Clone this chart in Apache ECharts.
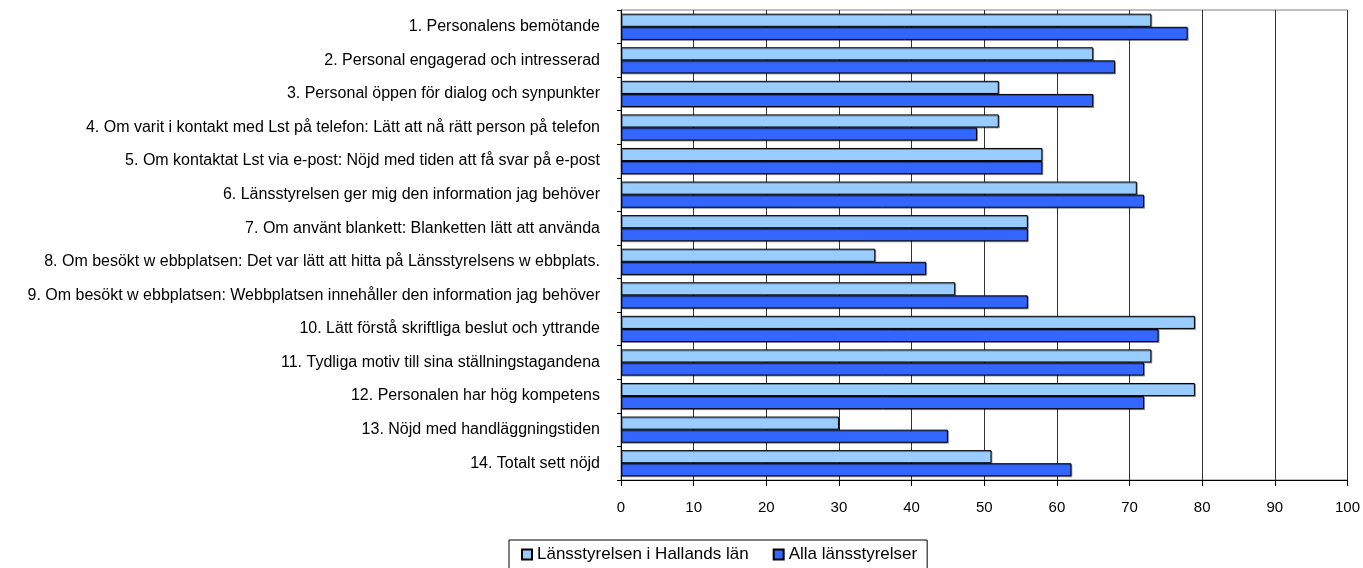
<!DOCTYPE html>
<html>
<head>
<meta charset="utf-8">
<script src="https://cdn.jsdelivr.net/npm/echarts@6/dist/echarts.min.js"></script>
<style>
  html, body { margin: 0; padding: 0; background: #fff; }
  #chart { width: 1363px; height: 568px; }
</style>
</head>
<body>
<div id="chart"></div>
<script>
// Survey questions (top to bottom)
const categories = [
  "1. Personalens bemötande",
  "2. Personal engagerad och intresserad",
  "3. Personal öppen för dialog och synpunkter",
  "4. Om varit i kontakt med Lst på telefon: Lätt att nå rätt person på telefon",
  "5. Om kontaktat Lst via e-post: Nöjd med tiden att få svar på e-post",
  "6. Länsstyrelsen ger mig den information jag behöver",
  "7. Om använt blankett: Blanketten lätt att använda",
  "8. Om besökt w ebbplatsen: Det var lätt att hitta på Länsstyrelsens w ebbplats.",
  "9. Om besökt w ebbplatsen: Webbplatsen innehåller den information jag behöver",
  "10. Lätt förstå skriftliga beslut och yttrande",
  "11. Tydliga motiv till sina ställningstagandena",
  "12. Personalen har hög kompetens",
  "13. Nöjd med handläggningstiden",
  "14. Totalt sett nöjd"
];

const seriesNames = ["Länsstyrelsen i Hallands län", "Alla länsstyrelser"];

const hallandValues = [73, 65, 52, 52, 58, 71, 56, 35, 46, 79, 73, 79, 30, 51];
const allaValues    = [78, 68, 65, 49, 58, 72, 56, 42, 56, 74, 72, 72, 45, 62];

const xMin = 0, xMax = 100, xStep = 10;

const fontFamily = "'Liberation Sans', Arial, sans-serif";

const barStyle = (color) => ({
  color: color,
  borderColor: '#000',
  borderWidth: 1,
  shadowColor: 'rgba(0,0,0,0.35)',
  shadowOffsetX: 1,
  shadowOffsetY: 1,
  shadowBlur: 0
});

const chart = echarts.init(document.getElementById('chart'));
chart.setOption({
  animation: false,
  backgroundColor: '#fff',
  textStyle: { fontFamily: fontFamily },
  grid: {
    left: 621, right: 15, top: 10, bottom: 88,
    show: true, borderColor: '#808080', borderWidth: 1,
    containLabel: false
  },
  legend: {
    left: 509, top: 540,
    padding: [6, 10, 6, 12],
    itemWidth: 10, itemHeight: 10, itemGap: 24,
    borderColor: '#000', borderWidth: 1,
    icon: 'rect',
    textStyle: { fontSize: 17, color: '#000', fontFamily: fontFamily },
    data: seriesNames
  },
  xAxis: {
    type: 'value',
    min: xMin, max: xMax, interval: xStep,
    axisLine: { show: true, lineStyle: { color: '#000', width: 1 } },
    axisTick: { show: true, length: 6, lineStyle: { color: '#000' } },
    axisLabel: { color: '#000', fontSize: 15, margin: 20, fontFamily: fontFamily },
    splitLine: { show: true, lineStyle: { color: '#333', width: 1 } }
  },
  yAxis: {
    type: 'category',
    inverse: true,
    data: categories,
    axisLine: { show: true, lineStyle: { color: '#000', width: 1 } },
    axisTick: { show: true, length: 4, lineStyle: { color: '#000' } },
    axisLabel: { color: '#000', fontSize: 16, margin: 21, fontFamily: fontFamily },
    splitLine: { show: false }
  },
  series: [
    {
      name: seriesNames[0],
      type: 'bar',
      data: hallandValues,
      barGap: '0%',
      barCategoryGap: '22%',
      itemStyle: barStyle('#99CCFF')
    },
    {
      name: seriesNames[1],
      type: 'bar',
      data: allaValues,
      barGap: '0%',
      barCategoryGap: '22%',
      itemStyle: barStyle('#3366FF')
    }
  ]
});
</script>
</body>
</html>
